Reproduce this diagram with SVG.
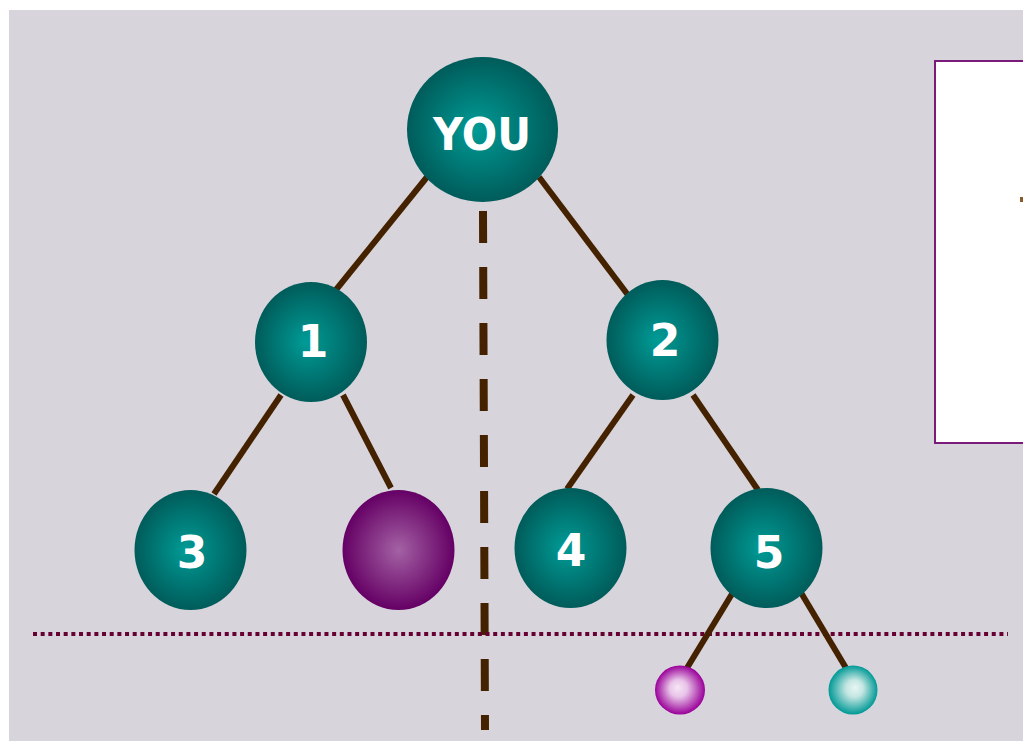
<svg xmlns="http://www.w3.org/2000/svg" width="1023" height="741" viewBox="0 0 1023 741">
<defs>
<radialGradient id="gTeal" cx="0.5" cy="0.5" r="0.5" fx="0.45" fy="0.5">
<stop offset="0" stop-color="#009b96"/>
<stop offset="1" stop-color="#005c5a"/>
</radialGradient>
<radialGradient id="gPurple" cx="0.5" cy="0.5" r="0.5">
<stop offset="0" stop-color="#a462a4"/>
<stop offset="1" stop-color="#650065"/>
</radialGradient>
<radialGradient id="gPink" cx="0.5" cy="0.5" r="0.5" fx="0.45" fy="0.45">
<stop offset="0" stop-color="#f6e6f6"/>
<stop offset="0.35" stop-color="#e8c4e8"/>
<stop offset="1" stop-color="#990099"/>
</radialGradient>
<radialGradient id="gAqua" cx="0.5" cy="0.5" r="0.5" fx="0.55" fy="0.45">
<stop offset="0" stop-color="#e6f6f4"/>
<stop offset="0.35" stop-color="#c4e6e2"/>
<stop offset="1" stop-color="#009996"/>
</radialGradient>
</defs>
<style>
.edge{stroke:#442200;stroke-width:6;fill:none}
.lbl{font-family:"DejaVu Sans","Liberation Sans",sans-serif;font-weight:bold;font-size:44px;fill:#ffffff;text-anchor:middle}
</style>
<rect x="0" y="0" width="1023" height="741" fill="#ffffff"/>
<rect x="9" y="10" width="1014" height="731" fill="#d7d4dc"/>
<g id="box">
<rect x="935" y="61" width="100" height="382" fill="#ffffff" stroke="#7a1a7a" stroke-width="2"/>
<rect x="1020" y="197" width="3" height="5" fill="#8a5a2a"/>
</g>
<g id="guides">
<line x1="483" y1="211" x2="485" y2="730" stroke="#442200" stroke-width="8" stroke-dasharray="32 24"/>
<line x1="33" y1="634" x2="1008" y2="634" stroke="#660033" stroke-width="4" stroke-dasharray="4 3.67"/>
</g>
<g id="connectors">
<line class="edge" x1="427" y1="177" x2="331" y2="296"/>
<line class="edge" x1="539" y1="177" x2="628" y2="295"/>
<line class="edge" x1="281" y1="395" x2="214" y2="494"/>
<line class="edge" x1="343" y1="395" x2="391" y2="488"/>
<line class="edge" x1="633" y1="395" x2="567" y2="489"/>
<line class="edge" x1="693" y1="395" x2="758" y2="490"/>
<line class="edge" x1="735" y1="589" x2="687" y2="668"/>
<line class="edge" x1="800" y1="591" x2="846" y2="668"/>
</g>
<g id="node-you">
<ellipse cx="482.5" cy="129.5" rx="75.5" ry="72.5" fill="url(#gTeal)"/>
<text class="lbl" x="482" y="150" textLength="98" lengthAdjust="spacingAndGlyphs">YOU</text>
</g>
<g id="node-1">
<ellipse cx="311" cy="342" rx="56" ry="60" fill="url(#gTeal)"/>
<text class="lbl" x="313" y="357">1</text>
</g>
<g id="node-2">
<ellipse cx="662.5" cy="340" rx="56" ry="60" fill="url(#gTeal)"/>
<text class="lbl" x="665" y="356">2</text>
</g>
<g id="node-3">
<ellipse cx="190.5" cy="550" rx="56" ry="60" fill="url(#gTeal)"/>
<text class="lbl" x="192" y="568">3</text>
</g>
<g id="node-purple">
<ellipse cx="398.5" cy="550" rx="56" ry="60" fill="url(#gPurple)"/>
</g>
<g id="node-4">
<ellipse cx="570.5" cy="548" rx="56" ry="60" fill="url(#gTeal)"/>
<text class="lbl" x="571" y="566">4</text>
</g>
<g id="node-5">
<ellipse cx="766.5" cy="548" rx="56" ry="60" fill="url(#gTeal)"/>
<text class="lbl" x="769" y="568">5</text>
</g>
<g id="node-pink">
<ellipse cx="680" cy="690" rx="25" ry="24.5" fill="url(#gPink)"/>
</g>
<g id="node-aqua">
<ellipse cx="853" cy="690" rx="24.5" ry="24.5" fill="url(#gAqua)"/>
</g>
</svg>
